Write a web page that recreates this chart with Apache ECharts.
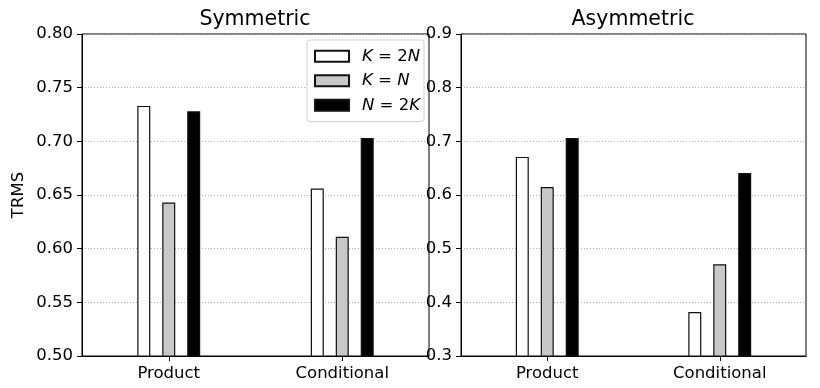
<!DOCTYPE html>
<html>
<head>
<meta charset="utf-8">
<script src="https://cdn.jsdelivr.net/npm/echarts@6/dist/echarts.min.js"></script>
<style>
  html, body { margin: 0; padding: 0; background: #fff; }
  #chart { width: 820px; height: 388px; }
</style>
</head>
<body>
<div id="chart"></div>
<script>
// Categories and series
const categories = ['Product', 'Conditional'];
const seriesNames = ['K=2N', 'K=N', 'N=2K'];

// Symmetric panel (TRMS)
const symK2N = [0.733, 0.656];
const symKN  = [0.643, 0.611];
const symN2K = [0.728, 0.703];

// Asymmetric panel (TRMS)
const asymK2N = [0.671, 0.382];
const asymKN  = [0.615, 0.471];
const asymN2K = [0.706, 0.641];

// Y tick settings
const symTicks  = { min: 0.50, max: 0.80, step: 0.05, digits: 2 };
const asymTicks = { min: 0.3,  max: 0.9,  step: 0.1,  digits: 1 };

const fills = ['#ffffff', '#c8c8c8', '#000000'];
const font = 'DejaVu Sans';
const labelSize = 16.5;
const titleSize = 20.5;

// Legend labels with italic symbols
const legendRich = {
  'K=2N': '{i|K} = 2{i|N}',
  'K=N':  '{i|K} = {i|N}',
  'N=2K': '{i|N} = 2{i|K}'
};

function xAxisFor(gridIndex) {
  return {
    type: 'category', gridIndex, data: categories,
    axisLine: { show: true, lineStyle: { color: '#000', width: 1 } },
    axisTick: { show: true, alignWithLabel: true, length: 5, lineStyle: { color: '#000' } },
    axisLabel: { color: '#000', fontFamily: font, fontSize: labelSize, margin: 9 },
    splitLine: { show: false }
  };
}

function yAxisFor(gridIndex, t, name) {
  return {
    type: 'value', gridIndex, min: t.min, max: t.max, interval: t.step,
    name: name || '', nameLocation: 'middle', nameGap: 55,
    nameTextStyle: { color: '#000', fontFamily: font, fontSize: labelSize },
    axisLine: { show: true, lineStyle: { color: '#000', width: 1 } },
    axisTick: { show: true, length: 5, lineStyle: { color: '#000' } },
    axisLabel: { color: '#000', fontFamily: font, fontSize: labelSize, margin: 9,
                 formatter: v => Number(v).toFixed(t.digits) },
    splitLine: { show: true, lineStyle: { color: '#b0b0b0', type: [1, 2], width: 1 } }
  };
}

function barsFor(gridIndex, lists) {
  return lists.map((vals, k) => ({
    type: 'bar', name: seriesNames[k], xAxisIndex: gridIndex, yAxisIndex: gridIndex,
    data: vals, barWidth: 13, barGap: '92%',
    itemStyle: { color: fills[k], borderColor: '#111', borderWidth: 1.2 },
    emphasis: { disabled: true }
  }));
}

const chart = echarts.init(document.getElementById('chart'), null, { renderer: 'canvas' });
chart.setOption({
  backgroundColor: '#fff',
  animation: false,
  title: [
    { text: 'Symmetric', left: 250, top: 4, textAlign: 'center',
      textStyle: { fontFamily: font, fontSize: titleSize, fontWeight: 'normal', color: '#000' } },
    { text: 'Asymmetric', left: 628, top: 4, textAlign: 'center',
      textStyle: { fontFamily: font, fontSize: titleSize, fontWeight: 'normal', color: '#000' } }
  ],
  legend: {
    data: seriesNames.map(n => ({ name: n, icon: 'rect' })),
    orient: 'vertical', right: 396, top: 40,
    itemWidth: 34, itemHeight: 11, itemGap: 6,
    padding: [7, 4, 7, 7],
    backgroundColor: '#fff', borderColor: '#d0d0d0', borderWidth: 1, borderRadius: 3,
    formatter: n => legendRich[n],
    textStyle: { fontFamily: font, fontSize: labelSize, color: '#000', lineHeight: 18.5,
                 padding: [0, 0, 0, 8],
                 rich: { i: { fontFamily: font, fontSize: labelSize, fontStyle: 'italic',
                              color: '#000', lineHeight: 18.5 } } },
    selectedMode: false
  },
  grid: [
    { left: 82, top: 34, width: 347, height: 322, show: true, borderColor: '#000', borderWidth: 1 },
    { left: 461, top: 34, width: 345, height: 322, show: true, borderColor: '#000', borderWidth: 1 }
  ],
  xAxis: [xAxisFor(0), xAxisFor(1)],
  yAxis: [yAxisFor(0, symTicks, 'TRMS'), yAxisFor(1, asymTicks)],
  series: [
    ...barsFor(0, [symK2N, symKN, symN2K]),
    ...barsFor(1, [asymK2N, asymKN, asymN2K])
  ]
});
</script>
</body>
</html>
